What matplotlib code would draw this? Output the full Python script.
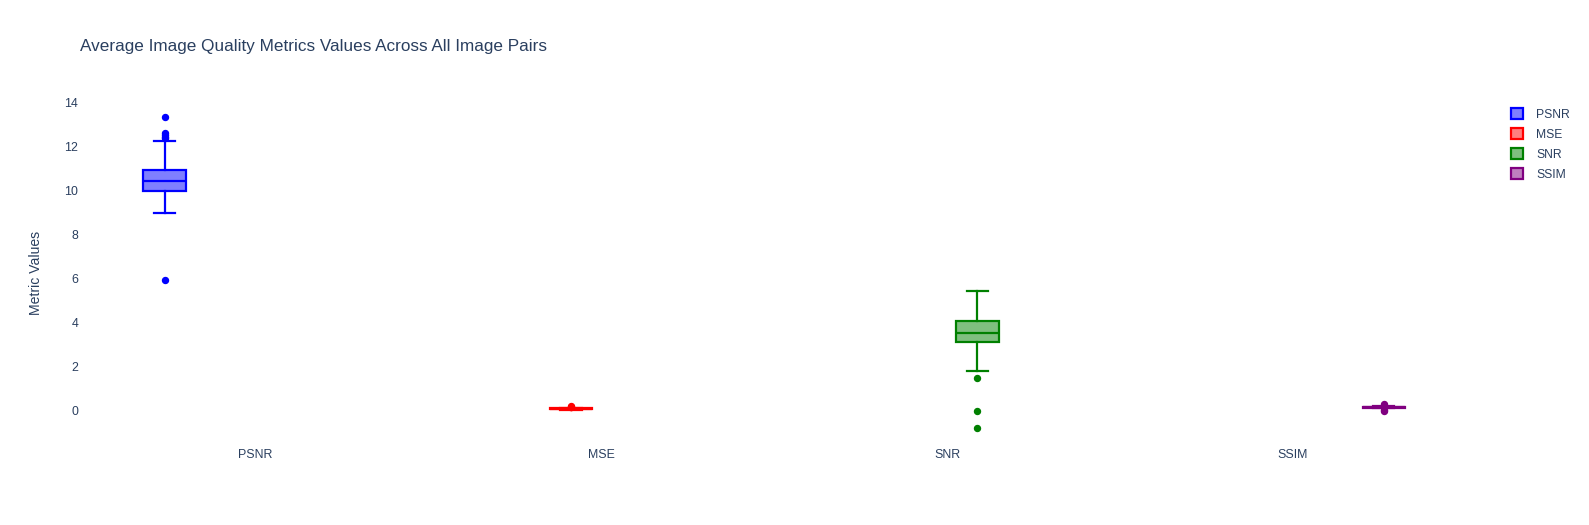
import matplotlib
matplotlib.use("Agg")
import matplotlib.pyplot as plt
from matplotlib.patches import Patch

plt.rcParams['font.family'] = ['Liberation Sans', 'DejaVu Sans']

# metric categories and box colours
metrics = ['PSNR', 'MSE', 'SNR', 'SSIM']
colors = ['#0000ff', '#ff0000', '#008000', '#800080']

# box statistics
q1 = [10.0, 0.07, 3.11, 0.13]
med = [10.45, 0.09, 3.55, 0.15]
q3 = [10.94, 0.11, 4.09, 0.17]
whislo = [8.97, 0.05, 1.82, 0.10]
whishi = [12.24, 0.13, 5.44, 0.20]
fliers = [
    [13.36, 12.64, 12.55, 12.45, 12.38, 5.94],
    [0.17, 0.20, 0.15],
    [1.47, 0.0, -0.77],
    [0.30, 0.05, 0.22, 0.0],
]

TXT = '#2a3f5f'
fig = plt.figure(figsize=(15.89, 5.25), dpi=100)
W, H = 1589, 525
ax = fig.add_axes([82.4 / W, 1 - 445 / H, (1466 - 82.4) / W, (445 - 100) / H])

slot = 0.7 / len(metrics)
for i, m in enumerate(metrics):
    pos = i + (i - 1.5) * slot
    stats = [dict(q1=q1[i], med=med[i], q3=q3[i], whislo=whislo[i],
                  whishi=whishi[i], fliers=fliers[i], label=m)]
    c = colors[i]
    ax.bxp(stats, positions=[pos], widths=slot * 0.7, capwidths=slot * 0.35,
           patch_artist=True, showfliers=True,
           boxprops=dict(facecolor=matplotlib.colors.to_rgba(c, 0.5), edgecolor=c, linewidth=1.6),
           medianprops=dict(color=c, linewidth=1.6),
           whiskerprops=dict(color=c, linewidth=1.6),
           capprops=dict(color=c, linewidth=1.6),
           flierprops=dict(marker='o', markerfacecolor=c, markeredgecolor=c, markersize=4.3))

ax.set_xlim(-0.5, 3.5)
ax.set_ylim(-1.56, 14.12)
ax.set_xticks(range(len(metrics)))
ax.set_xticklabels(metrics)
ax.set_yticks([0, 2, 4, 6, 8, 10, 12, 14])
ax.tick_params(length=0, labelsize=8.9, colors=TXT)
ax.tick_params(axis='y', pad=3)
ax.tick_params(axis='x', pad=3)
for s in ax.spines.values():
    s.set_visible(False)

ax.set_ylabel('Metric Values', fontsize=10.1, color=TXT)
ax.yaxis.set_label_coords((42.5 - 82.4) / (1466 - 82.4), 0.5)
fig.text(80 / W, 1 - 46 / H, 'Average Image Quality Metrics Values Across All Image Pairs',
         fontsize=12.3, color=TXT, va='center', ha='left')

handles = [Patch(facecolor=matplotlib.colors.to_rgba(c, 0.5), edgecolor=c, linewidth=1.6, label=m)
           for m, c in zip(metrics, colors)]
leg = fig.legend(handles=handles, loc='upper left', bbox_to_anchor=(1511 / W, 1 - 108 / H),
                 frameon=False, fontsize=8.7, handlelength=1.0, handleheight=1.0,
                 handletextpad=1.1, labelspacing=0.62, borderpad=0, borderaxespad=0)
for t in leg.get_texts():
    t.set_color(TXT)

fig.savefig('out.png', dpi=100)
